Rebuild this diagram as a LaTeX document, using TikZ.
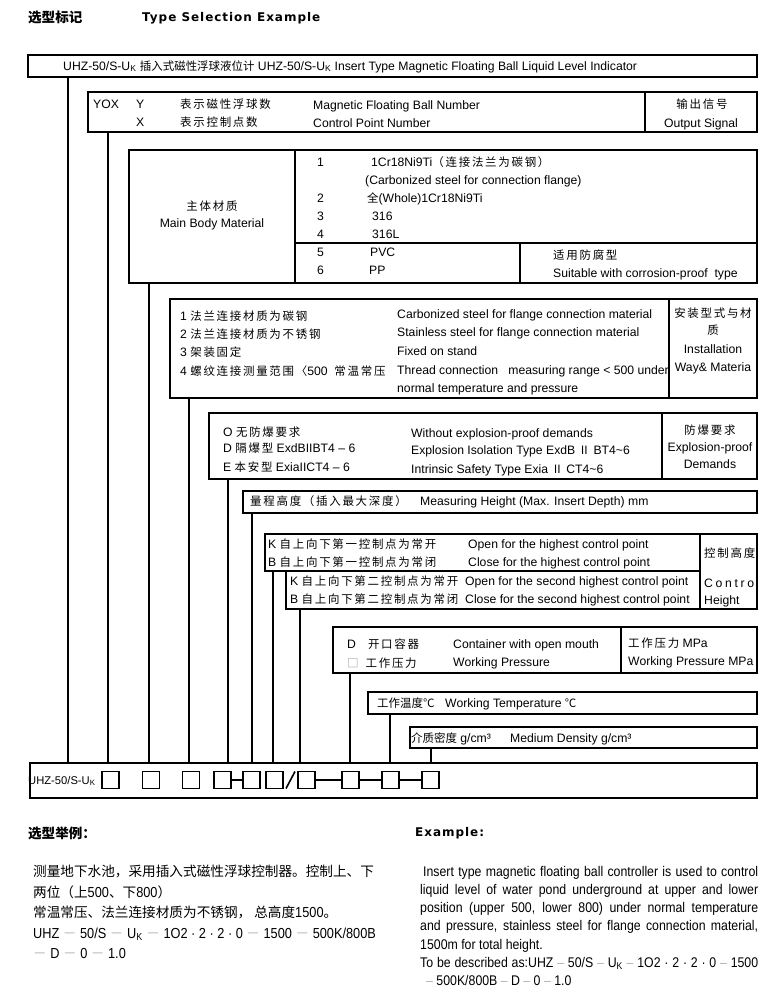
\documentclass[tikz,border=0pt]{standalone}
\usepackage{fontspec}
\setmainfont{Liberation Sans}
\newfontfamily\cjk[LetterSpace=15,Scale=0.94]{Noto Sans CJK SC}
\newfontfamily\cjkp[Scale=0.94]{Noto Sans CJK SC}
\newfontfamily\narrow[FakeStretch=0.88]{Liberation Sans}
\newfontfamily\heavy[LetterSpace=8]{DejaVu Sans}
\newfontfamily\spaced[LetterSpace=22]{Liberation Sans}
\usetikzlibrary{positioning,calc}
\setlength\parindent{0pt}
\newcommand\fdash{{\color{black!30}\cjkp －}}
\newcommand\edash{{\color{black!30}–}}
\tikzset{box/.style={draw,line width=1.6pt,inner sep=0pt,outer sep=0pt,anchor=north west},sq/.style={draw,line width=1.6pt,minimum size=17pt,inner sep=0pt,outer sep=0pt},ln/.style={line width=1.6pt},t/.style={anchor=base west,inner sep=0pt,font=\fontsize{12.2}{14}\selectfont},tc/.style={t,anchor=base},head/.style={anchor=base west,inner sep=0pt,font=\fontsize{14.4}{16}\selectfont},para/.style={anchor=north west,inner sep=0pt}}

\begin{document}
\begin{tikzpicture}[x=1pt,y=-1pt]
\useasboundingbox (0,0) rectangle (779,999);

% headings
\node[head] (hcn) at (28,22) {\cjkp\bfseries 选型标记};
\node[head] (hen) at (142,21) {\heavy\bfseries\fontsize{12}{13}\selectfont Type Selection Example};

% frames
\node[box,minimum width=729pt,minimum height=22pt] (title) at (28,55) {};
\node[box,minimum width=669pt,minimum height=40pt] (yox) at (88,92) {};
\node[box,minimum width=628pt,minimum height=133pt] (body) at (129,150) {};
\node[box,minimum width=587pt,minimum height=99pt] (inst) at (170,299) {};
\node[box,minimum width=548pt,minimum height=66pt] (expl) at (209,413) {};
\node[box,minimum width=514pt,minimum height=22pt] (meas) at (243,491) {};
\node[box,minimum width=435pt,minimum height=37pt] (kb1) at (265,534) {};
\node[box,minimum width=414pt,minimum height=38pt] (kb2) at (286,571) {};
\node[box,minimum width=57pt,minimum height=75pt] (ctrl) at (700,534) {};
\node[box,minimum width=424pt,minimum height=46pt] (pres) at (333,627) {};
\node[box,minimum width=389pt,minimum height=22pt] (temp) at (368,692) {};
\node[box,minimum width=347pt,minimum height=21pt] (dens) at (410,727) {};
\node[box,minimum width=727pt,minimum height=35pt] (code) at (30,763) {};

% cell dividers
\draw[ln] (yox.north -| 645,0) -- (yox.south -| 645,0);
\draw[ln] (body.north -| 295,0) -- (body.south -| 295,0);
\draw[ln] (295,243) -- (body.east |- 0,243);
\draw[ln] (520,243) -- (body.south -| 520,0);
\draw[ln] (inst.north -| 669,0) -- (inst.south -| 669,0);
\draw[ln] (expl.north -| 662,0) -- (expl.south -| 662,0);
\draw[ln] (pres.north -| 621,0) -- (pres.south -| 621,0);

% code squares
\foreach \i/\x in {1/110.5,2/151,3/191,4/222.5,5/251.5,6/274.5,7/306.5,8/350.5,9/390.5,10/430.5}
  \node[sq] (sq\i) at (\x,780) {};
\node[t,font=\fontsize{11.2}{13}\selectfont] (uhz) at (28,784) {UHZ-50/S-U\textsubscript{K}};
\draw[ln] (sq4) -- (sq5);
\draw[ln] ([xshift=3pt]sq6.south east) -- ([xshift=-3pt]sq7.north west);
\draw[ln] (sq7) -- (sq8);
\draw[ln] (sq8) -- (sq9);
\draw[ln] (sq9) -- (sq10);

% stems down to the code line
\foreach \nm/\x in {title/68,yox/108,body/149,inst/189,expl/228,meas/252,kb1/273,kb2/300,pres/350,temp/390,dens/431}
  \draw[ln] (\nm.south -| \x,0) -- (code.north -| \x,0);

% title line
\node[t] (tt) at (63,70) {UHZ-50/S-U\textsubscript{K} {\cjkp 插入式磁性浮球液位计} UHZ-50/S-U\textsubscript{K} Insert Type Magnetic Floating Ball Liquid Level Indicator};

% output signal
\node[t] (yx) at (93,108) {YOX};
\node[t] (yy) at (136,108) {Y};
\node[t] (yxx) at (136,126) {X};
\node[t] (ycn1) at (180,108) {\cjk 表示磁性浮球数};
\node[t] (ycn2) at (180,126) {\cjk 表示控制点数};
\node[t] (yen1) at (313,109) {Magnetic Floating Ball Number};
\node[t] (yen2) at (313,127) {Control Point Number};
\node[tc] (yout1) at (702,108) {\cjk 输出信号};
\node[tc] (yout2) at (701,127) {Output Signal};

% main body material
\node[tc] (bcn) at (212,210) {\cjk 主体材质};
\node[tc] (ben) at (212,227) {Main Body Material};
\foreach \n/\y in {1/166,2/202,3/220,4/238,5/256,6/274}
  \node[t] (bn\n) at (317,\y) {\n};
\node[t] (m1) at (371,166) {1Cr18Ni9Ti{\cjk （连接法兰为碳钢）}};
\node[t] (m1e) at (365,184) {(Carbonized steel for connection flange)};
\node[t] (m2) at (367,202) {{\cjkp 全}(Whole)1Cr18Ni9Ti};
\node[t] (m3) at (372,220) {316};
\node[t] (m4) at (372,238) {316L};
\node[t] (m5) at (370,256) {PVC};
\node[t] (m6) at (369,274) {PP};
\node[t] (scn) at (553,259) {\cjk 适用防腐型};
\node[t] (sen) at (553,277) {Suitable with corrosion-proof\ \ type};

% installation
\node[t] (i1) at (180,320) {1 {\cjk 法兰连接材质为碳钢}};
\node[t] (i2) at (180,338) {2 {\cjk 法兰连接材质为不锈钢}};
\node[t] (i3) at (180,356) {3 {\cjk 架装固定}};
\node[t] (i4) at (180,375) {4 {\cjk 螺纹连接测量范围〈}500\ \ {\cjk 常温常压}};
\node[t] (ie1) at (397,318) {Carbonized steel for flange connection material};
\node[t] (ie2) at (397,336) {Stainless steel for flange connection material};
\node[t] (ie3) at (397,355) {Fixed on stand};
\node[t] (ie4) at (397,374) {Thread connection\ \ \ measuring range < 500 under};
\node[t] (ie5) at (397,392) {normal temperature and pressure};
\node[tc] (iw1) at (713,317) {\cjk 安装型式与材};
\node[tc] (iw2) at (713,334) {\cjk 质};
\node[tc] (iw3) at (713,353) {Installation};
\node[tc] (iw4) at (713,371) {Way\& Materia};

% explosion-proof
\node[t] (e1) at (223,436) {O {\cjk 无防爆要求}};
\node[t] (e2) at (223,452) {D {\cjk 隔爆型} ExdBIIBT4 – 6};
\node[t] (e3) at (223,471) {E {\cjk 本安型} ExiaIICT4 – 6};
\node[t] (ee1) at (411,437) {Without explosion-proof demands};
\node[t] (ee2) at (411,454) {Explosion Isolation Type ExdB {\cjkp Ⅱ} BT4\textasciitilde 6};
\node[t] (ee3) at (411,473) {Intrinsic Safety Type Exia {\cjkp Ⅱ} CT4\textasciitilde 6};
\node[tc] (ew1) at (710,434) {\cjk 防爆要求};
\node[tc] (ew2) at (710,451) {Explosion-proof};
\node[tc] (ew3) at (710,468) {Demands};

% measuring height
\node[t] (mh1) at (250,505) {\cjk 量程高度（插入最大深度）};
\node[t] (mh2) at (420,505) {Measuring Height (Max. Insert Depth) mm};

% control points
\node[t] (k1) at (268,548) {K {\cjk 自上向下第一控制点为常开}};
\node[t] (b1) at (268,566) {B {\cjk 自上向下第一控制点为常闭}};
\node[t] (k1e) at (468,548) {Open for the highest control point};
\node[t] (b1e) at (468,566) {Close for the highest control point};
\node[t] (k2) at (290,585) {K {\cjk 自上向下第二控制点为常开}};
\node[t] (b2) at (290,603) {B {\cjk 自上向下第二控制点为常闭}};
\node[t] (k2e) at (465,585) {Open for the second highest control point};
\node[t] (b2e) at (465,603) {Close for the second highest control point};
\node[t] (ch1) at (704,557) {\cjk 控制高度};
\node[t] (ch2) at (704,587) {\spaced Contro};
\node[t] (ch3) at (704,604) {Height};

% pressure, temperature, density
\node[t] (p1) at (347,648) {D\hspace{12pt}{\cjk 开口容器}};
\node[t] (p2) at (347,667) {{\color{black!45}\cjkp □}\hspace{7pt}{\cjk 工作压力}};
\node[t] (p1e) at (453,648) {Container with open mouth};
\node[t] (p2e) at (453,666) {Working Pressure};
\node[t] (p3) at (628,647) {{\cjk 工作压力} MPa};
\node[t] (p4) at (628,665) {Working Pressure MPa};
\node[t] (w1) at (377,707) {\cjkp 工作温度℃};
\node[t] (w2) at (445,707) {Working Temperature {\cjkp ℃}};
\node[t] (d1) at (411,742) {{\cjkp 介质密度} g/cm³};
\node[t] (d2) at (510,742) {Medium Density g/cm³};

% example
\node[head] (xcn) at (28,838) {\cjkp\bfseries 选型举例：};
\node[head] (xen) at (415,836) {\heavy\bfseries\fontsize{12}{13}\selectfont Example:};
\node[para,align=left,font=\narrow\fontsize{14.5}{20.5}\selectfont] (xcnp) at (33,865) {{\cjkp 测量地下水池，采用插入式磁性浮球控制器。控制上、下}\\{\cjkp 两位（上}500{\cjkp 、下}800{\cjkp ）}\\{\cjkp 常温常压、法兰连接材质为不锈钢，\ 总高度}1500{\cjkp 。}\\UHZ \fdash{} 50/S \fdash{} U\textsubscript{K} \fdash{} 1O2 · 2 · 2 · 0 \fdash{} 1500 \fdash{} 500K/800B\\\fdash{} D \fdash{} 0 \fdash{} 1.0};
\node[para,text width=338pt,align=justify,font=\narrow\fontsize{14}{18.2}\selectfont] (xenp) at (420,866) {\hspace*{3pt}Insert type magnetic floating ball controller is used to control\linebreak liquid level of water pond underground at upper and lower\linebreak position (upper 500, lower 800) under normal temperature\linebreak and pressure, stainless steel for flange connection material,\linebreak 1500m for total height.\par To be described as:UHZ \edash{} 50/S \edash{} U\textsubscript{K} \edash{} 1O2 · 2 · 2 · 0 \edash{} 1500\linebreak\hspace*{6pt}\edash{} 500K/800B \edash{} D \edash{} 0 \edash{} 1.0};
\end{tikzpicture}
\end{document}
